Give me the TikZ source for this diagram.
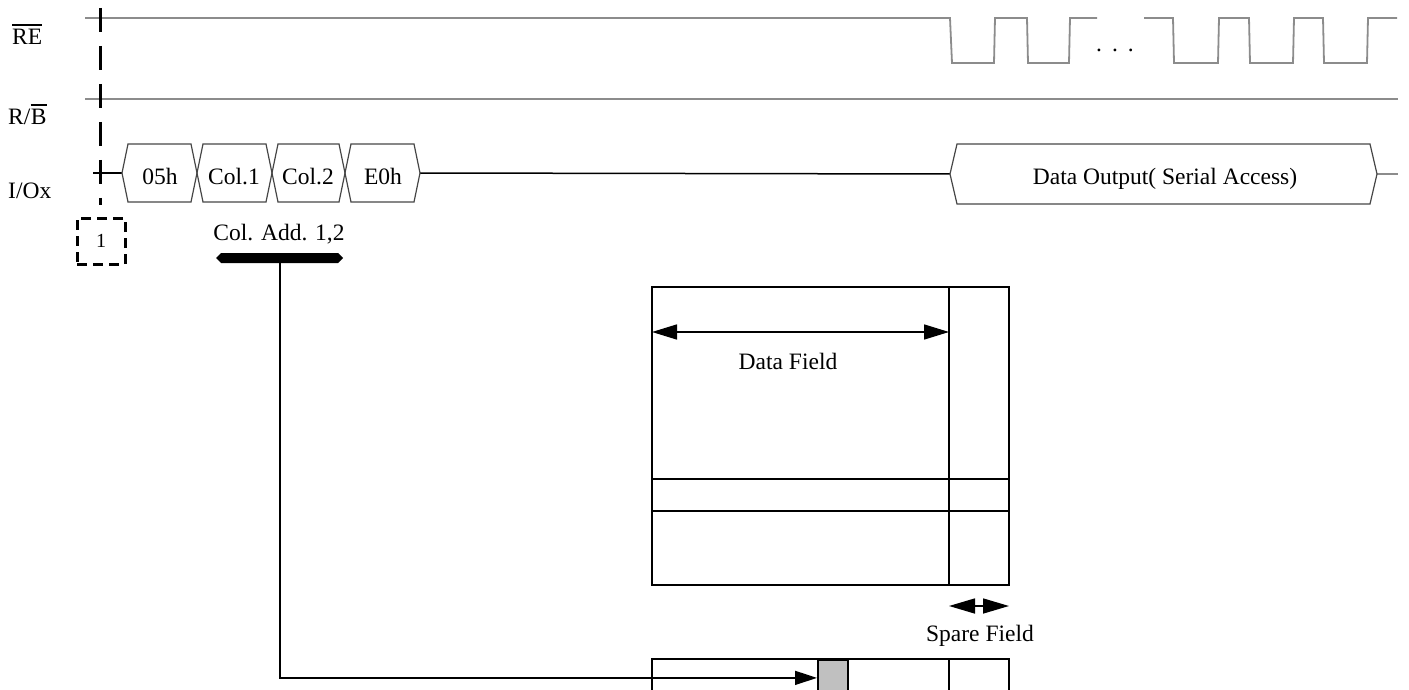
\documentclass[tikz,border=0pt]{standalone}
\usepackage{fontspec}
\setmainfont{Liberation Serif}
\usetikzlibrary{arrows.meta}
\definecolor{sigcol}{RGB}{140,140,140}
\definecolor{hexcol}{RGB}{70,70,70}
\definecolor{cellgrey}{RGB}{192,192,192}
\begin{document}
\begin{tikzpicture}[x=1pt,y=-1pt,
  every node/.style={font=\fontsize{23.5}{26}\selectfont, inner sep=0pt},
  sig/.style={draw=sigcol, line width=1.8pt},
  iol/.style={draw=black, line width=1.5pt},
  hexline/.style={draw=hexcol, line width=1.2pt},
  mem/.style={draw=black, line width=1.8pt},
  ovl/.style={draw=black, line width=1.4pt},
  cutline/.style={draw=black, line width=3pt, dash pattern=on 24pt off 14pt},
  markbox/.style={draw=black, line width=3pt, dash pattern=on 10pt off 6pt, minimum width=48pt, minimum height=46pt},
  dimarrow/.style={line width=1.6pt, {Triangle[length=25pt,width=15pt]}-{Triangle[length=25pt,width=15pt]}},
  sparearrow/.style={line width=1.6pt, {Triangle[length=26pt,width=15pt]}-{Triangle[length=26pt,width=15pt]}},
  ptrarrow/.style={draw=black, line width=1.5pt, -{Triangle[length=22pt,width=14pt]}}
]
\useasboundingbox (0,0) rectangle (1409,690);

% signal labels
\node[anchor=base west] (lre) at (12,45) {RE};
\draw[ovl] (12,25) -- (lre.east |- 0,25);
\node[anchor=base west] (lrb1) at (8,125) {R/};
\node[anchor=base west] (lrb2) at (lrb1.base east) {B};
\draw[ovl] (lrb2.west |- 0,105) -- (lrb2.east |- 0,105);
\node[anchor=base west] (lio) at (8,198) {I/Ox};

% RE waveform
\draw[sig] (85,18) -- (950,18) -- (952,63) -- (994,63) -- (995,18) -- (1027,18) -- (1028,63) -- (1069,63) -- (1070,18) -- (1097,18);
\draw[sig] (1144,18) -- (1173,18) -- (1174,63) -- (1218,63) -- (1219,18) -- (1249,18) -- (1250,63) -- (1293,63) -- (1294,18) -- (1323,18) -- (1324,63) -- (1367,63) -- (1368,18) -- (1397,18);
\node[anchor=base] (dots) at (1115,52) {.\hspace{10pt}.\hspace{10pt}.};

% R/B line
\draw[sig] (85,99) -- (1398,99);

% I/O bus
\coordinate (io0) at (93,173);
\coordinate (h0) at (122,173);
\coordinate (h4) at (420,173);
\coordinate (d0) at (950,174);
\coordinate (d1) at (1377,174);
\coordinate (ioend) at (1398,174);
\draw[iol] (io0) -- (h0);
\draw[iol] (h4) -- (d0);
\draw[iol, draw=sigcol] (d1) -- (ioend);

\newcommand\hexa[2]{\draw[hexline] (#1,173) -- (#1+6,144) -- (#2-6,144) -- (#2,173) -- (#2-6,202) -- (#1+6,202) -- cycle;}
\hexa{122}{197}
\hexa{197}{272}
\hexa{272}{345}
\hexa{345}{420}
\draw[hexline] (950,174) -- (957,144) -- (1370,144) -- (1377,174) -- (1370,204) -- (957,204) -- cycle;

\node[anchor=base] (t05) at (160,185) {05h};
\node[anchor=base] (tc1) at (234,185) {Col.1};
\node[anchor=base] (tc2) at (308,185) {Col.2};
\node[anchor=base] (te0) at (383,185) {E0h};
\node[anchor=base] (tdo) at (1165,185) {Data Output( Serial Access)};

% cut marker
\coordinate (cuttop) at (100,8);
\coordinate (cutbot) at (100,205);
\draw[cutline] (cuttop) -- (cutbot);
\node[markbox] (mark) at (101,241) {\fontsize{20}{22}\selectfont 1};

% column address bar
\node (cadd) at (279,234) {Col. Add. 1,2};
\fill[black] (216,258) -- (221,253) -- (338,253) -- (343,258) -- (338,263) -- (221,263) -- cycle;
\coordinate (bar) at (280,262);

% memory array
\draw[mem] (652,287) rectangle (1009,585);
\draw[mem] (949,287) -- (949,585);
\draw[mem] (652,479) -- (1009,479);
\draw[mem] (652,511) -- (1009,511);
\coordinate (dfl) at (652,332);
\coordinate (dfr) at (949,332);
\draw[dimarrow] (dfl) -- (dfr);
\node (tdf) at (788,361) {Data Field};
\coordinate (sfl) at (949,606);
\coordinate (sfr) at (1009,606);
\draw[sparearrow] (sfl) -- (sfr);
\node (tsf) at (980,636) {Spare Field};

% page register (lower)
\draw[mem] (652,700) -- (652,659) -- (1009,659) -- (1009,700);
\draw[mem] (949,659) -- (949,700);
\node[mem, fill=cellgrey, anchor=north west, minimum width=30pt, minimum height=36pt] (cell) at (817,659) {};

\draw[ptrarrow] (bar) |- (cell.west);
\end{tikzpicture}
\end{document}
